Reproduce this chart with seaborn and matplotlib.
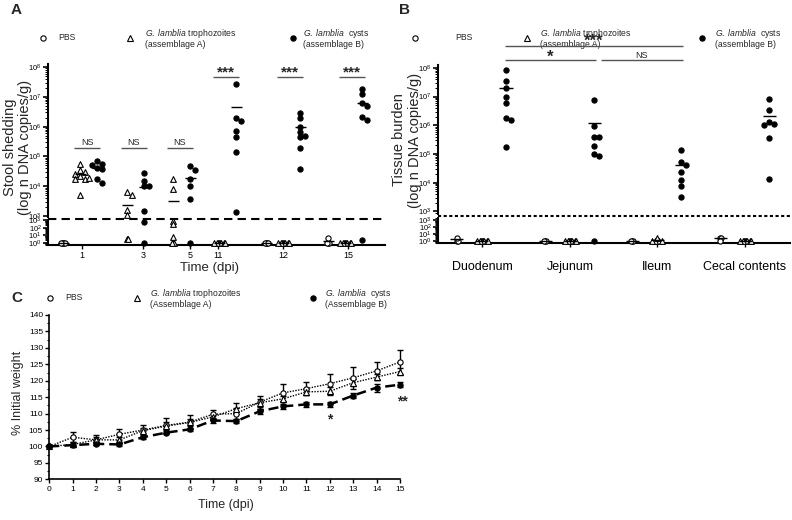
import numpy
import seaborn as sea
from matplotlib import pyplot, ticker

sea.set_style("ticks")
pyplot.rcParams.update({
    "font.family": ["Liberation Sans", "DejaVu Sans"],
    "mathtext.fontset": "custom",
    "mathtext.rm": "Liberation Sans",
    "mathtext.it": "Liberation Sans:italic",
    "mathtext.bf": "Liberation Sans:bold",
    "axes.edgecolor": "black",
    "xtick.color": "black",
    "ytick.color": "black",
})

# A: stool shedding (DNA copies/g), 1 = nothing detected
stool_days = [1, 3, 5, 11, 12, 15]
stool_pbs = {
    1: [1, 1, 1, 1, 1],
    12: [1, 1, 1, 1],
    15: [1, 1, 1, 4],
}
stool_troph = {
    1: [5.5e4, 3.5e4, 3.0e4, 2.5e4, 2.2e4, 1.8e4, 1.7e4, 1.9e4, 5e3],
    3: [6.5e3, 5e3, 1.6e3, 1.1e3, 3, 3],
    5: [1.7e4, 8e3, 9e2, 3e2, 5, 1, 1, 1],
    11: [1, 1, 1, 1, 1, 1, 1, 1],
    12: [1, 1, 1, 1, 1, 1, 1, 1],
    15: [1, 1, 1, 1, 1, 1, 1, 1],
}
stool_cyst = {
    1: [7e4, 5.5e4, 5e4, 4e4, 3.8e4, 1.8e4, 1.3e4],
    3: [2.7e4, 1.5e4, 1.05e4, 1e4, 1.45e3, 5e2, 1],
    5: [4.9e4, 3.5e4, 1.7e4, 1e4, 3.8e3, 1],
    11: [2.6e7, 1.9e6, 1.6e6, 7e5, 4.4e5, 1.4e5, 1.4e3],
    12: [2.8e6, 1.9e6, 1e6, 6.5e5, 5e5, 4.5e5, 1.9e5, 3.7e4],
    15: [1.8e7, 1.2e7, 6e6, 5e6, 2.1e6, 1.7e6, 2.5],
}
stool_stats = ["NS", "NS", "NS", "***", "***", "***"]

# B: tissue burden (DNA copies/g)
sites = ["Duodenum", "Jejunum", "Ileum", "Cecal contents"]
tissue_pbs = [[1, 1, 3], [1, 1, 1], [1, 1, 1], [3, 3, 1]]
tissue_troph = [
    [1, 1, 1, 1, 1, 1, 1, 1],
    [1, 1, 1, 1, 1, 1, 1, 1],
    [1, 1, 1, 1, 1, 1, 1, 3],
    [1, 1, 1, 1, 1, 1, 1, 1],
]
tissue_cyst = [
    [8.5e7, 3.5e7, 2e7, 9.5e6, 6e6, 1.85e6, 1.55e6, 1.8e5],
    [7.5e6, 9.5e5, 4e5, 4e5, 1.9e5, 1e5, 8.5e4, 1],
    [1.4e5, 5.1e4, 4.2e4, 2.3e4, 1.25e4, 7.5e3, 3.3e3],
    [8e6, 3.5e6, 1.3e6, 1.15e6, 1.0e6, 3.5e5, 1.3e4],
]

# C: body weight, % of day 0 (mean, SEM)
weight_days = [0, 1, 2, 3, 4, 5, 6, 7, 8, 9, 10, 11, 12, 13, 14, 15]
weight_pbs = [100, 102.8, 102.0, 103.7, 105.0, 106.4, 107.4, 109.8,
              110.0, 113.5, 116.3, 117.6, 119.1, 120.9, 123.0, 125.7]
weight_pbs_sem = [0, 1.6, 1.6, 1.7, 1.4, 2.3, 2.1, 1.4,
                  1.6, 2.0, 2.6, 2.0, 2.9, 3.3, 2.7, 3.7]
weight_troph = [100, 100.6, 102.0, 102.0, 104.8, 106.2, 107.3, 109.0,
                111.5, 113.3, 114.5, 116.6, 116.8, 119.4, 121.1, 122.8]
weight_troph_sem = [0, 0.6, 0.8, 0.8, 0.8, 1.2, 1.2, 1.0,
                    1.7, 1.2, 1.0, 1.0, 1.2, 1.0, 1.0, 1.0]
weight_cyst = [100, 100.4, 100.8, 100.6, 102.8, 104.2, 105.2, 107.9,
               107.7, 110.7, 112.2, 112.8, 112.8, 115.5, 117.9, 118.8]
weight_cyst_sem = [0, 0.6, 0.4, 0.4, 0.4, 0.5, 0.5, 0.7,
                   0.6, 0.8, 0.8, 0.7, 0.8, 0.8, 1.2, 0.8]

# layout (positions are in pixels of the 792x520 canvas)
W, H = 792, 520
A_CENTER = {1: 80, 3: 127, 5: 173, 11: 219, 12: 283, 15: 345}
A_TICKS = [82, 143, 190, 218, 283, 348]
A_SHIFT = {"pbs": -17, "troph": 0, "cyst": 17}
B_CENTER = [482, 570, 657, 745]
B_SHIFT = {"pbs": -25, "troph": 0, "cyst": 24}
MARK = {
    "pbs": dict(marker="o", color="white", s=14),
    "troph": dict(marker="^", color="white", s=17),
    "cyst": dict(marker="o", color="black", s=14),
}

fig = pyplot.figure(figsize=(W / 100, H / 100), dpi=100)
ov = fig.add_axes([0, 0, 1, 1])
ov.set_xlim(0, W)
ov.set_ylim(H, 0)
ov.axis("off")


def px_axes(left, top, right, bottom):
    return fig.add_axes([left / W, 1 - bottom / H,
                         (right - left) / W, (bottom - top) / H])


def log_axes(rect, lo, hi, xlim):
    ax = px_axes(*rect)
    ax.set_yscale("log")
    ax.set_ylim(10 ** lo, 10 ** hi)
    ax.set_xlim(*xlim)
    ax.yaxis.set_major_locator(ticker.LogLocator(base=10, numticks=15))
    ax.yaxis.set_minor_locator(
        ticker.LogLocator(base=10, subs=numpy.arange(2, 10), numticks=15))
    ax.yaxis.set_minor_formatter(ticker.NullFormatter())
    ax.tick_params(axis="y", which="major", length=3.5, width=1.2,
                   labelsize=5.5, pad=1)
    ax.tick_params(axis="y", which="minor", length=2, width=0.7)
    sea.despine(ax=ax)
    ax.spines["left"].set_linewidth(1.5)
    ax.patch.set_alpha(0)
    return ax


def swarm(ys, gap):
    # simple deterministic beeswarm offsets (ys in pixels)
    xs = []
    for i, y in enumerate(ys):
        k = 0
        while True:
            c = gap * ((k + 1) // 2) * (1 if k % 2 else -1)
            if all(numpy.hypot(c - xs[j], y - ys[j]) >= gap for j in range(i)):
                break
            k += 1
        xs.append(c)
    return numpy.array(xs)


def draw_groups(ax_hi, ax_lo, ppd_hi, ppd_lo, x0, vals, kind, half):
    vals = numpy.asarray(vals, dtype=float)
    for ax, sel, ppd, gap in ((ax_hi, vals >= 1000, ppd_hi, 4.6),
                              (ax_lo, vals < 1000, ppd_lo, 1.2)):
        v = vals[sel]
        if len(v) == 0:
            continue
        xs = x0 + swarm(numpy.log10(v) * ppd, gap)
        sea.scatterplot(x=xs, y=v, ax=ax, edgecolor="black", linewidth=0.8,
                        legend=False, clip_on=False, zorder=3, **MARK[kind])
    mean = vals.mean()
    ax = ax_hi if mean >= 1000 else ax_lo
    ax.hlines(mean, x0 - half, x0 + half, color="black", lw=1, zorder=4)


# ---------------- panel A ----------------
a_hi = log_axes((48, 64, 385, 217), 2.97, 8.1, (48, 385))
a_lo = log_axes((48, 220, 385, 245), -0.31, 3.03, (48, 385))
a_hi.spines["bottom"].set_visible(False)
a_hi.tick_params(axis="x", bottom=False, labelbottom=False)
a_lo.spines["bottom"].set_linewidth(1.5)
a_lo.set_xticks(A_TICKS, [str(d) for d in stool_days])
a_lo.tick_params(axis="x", length=3, width=1, labelsize=6.5, pad=1.5)
a_lo.axhline(10 ** 3.16, color="black", lw=1.5, ls=(0, (4, 2.5)),
             clip_on=False)

for kind, table in (("pbs", stool_pbs), ("troph", stool_troph),
                    ("cyst", stool_cyst)):
    for day, vals in table.items():
        draw_groups(a_hi, a_lo, 29.8, 7.5, A_CENTER[day] + A_SHIFT[kind],
                    vals, kind, 5.5)

for day, stat in zip(stool_days, stool_stats):
    x0 = A_CENTER[day]
    if stat == "NS":
        a_hi.hlines(10 ** 5.29, x0 - 6, x0 + 20, color="#555555", lw=1)
        a_hi.text(x0 + 7, 10 ** 5.33, stat, ha="center", va="bottom",
                  fontsize=6.5)
    else:
        a_hi.hlines(10 ** 7.675, x0 - 6, x0 + 20, color="#555555", lw=1)
        a_hi.text(x0 + 7, 10 ** 7.67, stat, ha="center", va="baseline",
                  fontsize=11, fontweight="bold")

# ---------------- panel B ----------------
b_hi = log_axes((438, 65, 790, 214), 2.91, 8.1, (438, 790))
b_lo = log_axes((438, 218, 790, 243.3), -0.37, 3.35, (438, 790))
b_hi.spines["bottom"].set_visible(False)
b_hi.tick_params(axis="x", bottom=False, labelbottom=False)
b_lo.spines["bottom"].set_linewidth(1.5)
b_lo.set_xticks(B_CENTER, sites)
b_lo.tick_params(axis="x", length=3, width=1, labelsize=9, pad=10)
b_lo.axhline(10 ** 3.65, color="black", lw=1.5, ls=(0, (1.5, 1.2)),
             clip_on=False)

for kind, table in (("pbs", tissue_pbs), ("troph", tissue_troph),
                    ("cyst", tissue_cyst)):
    for center, vals in zip(B_CENTER, table):
        draw_groups(b_hi, b_lo, 28.7, 6.8, center + B_SHIFT[kind],
                    vals, kind, 6.5)

cx = [c + B_SHIFT["cyst"] for c in B_CENTER]
for (x1, x2, y, label, ty, size) in (
        (cx[0] - 1, cx[2] + 2, 8.77, "***", 8.76, 12),
        (cx[0] - 1, cx[1] + 2, 8.28, "*", 8.22, 12),
        (cx[1] + 7, cx[2] + 2, 8.28, "NS", 8.33, 6.5)):
    b_hi.hlines(10 ** y, x1, x2, color="#555555", lw=1, clip_on=False)
    b_hi.text((x1 + x2) / 2, 10 ** ty, label, ha="center", va="baseline",
              fontsize=size, fontweight="bold" if "*" in label else "normal",
              clip_on=False)

# ---------------- panel C ----------------
c_ax = px_axes(49.3, 315, 400, 479.3)
c_ax.set_xlim(0, 15)
c_ax.set_ylim(90, 140)
sea.despine(ax=c_ax)
for vals, sem, mk, face, ls, lw in (
        (weight_pbs, weight_pbs_sem, "o", "white", (0, (1, 1)), 1.0),
        (weight_troph, weight_troph_sem, "^", "white", (0, (1, 1)), 1.0),
        (weight_cyst, weight_cyst_sem, "o", "black", (0, (4, 2)), 1.8)):
    c_ax.errorbar(weight_days, vals, yerr=sem, fmt="none", ecolor="black",
                  elinewidth=1, capsize=2, capthick=1, clip_on=False,
                  zorder=2)
    sea.lineplot(x=weight_days, y=vals, ax=c_ax, color="black", lw=lw,
                 linestyle=ls, marker=mk, ms=3.8, mfc=face, mec="black",
                 mew=0.8, clip_on=False, zorder=3)
c_ax.text(12, 108.3, "*", ha="center", va="center", fontsize=10,
          fontweight="bold")
c_ax.text(15.1, 113.8, "**", ha="center", va="center", fontsize=10,
          fontweight="bold")
c_ax.set_xticks(weight_days)
c_ax.yaxis.set_major_locator(ticker.MultipleLocator(5))
c_ax.yaxis.set_minor_locator(ticker.MultipleLocator(2.5))
c_ax.tick_params(which="major", length=3, width=1, labelsize=6, pad=1.5)
c_ax.tick_params(which="minor", length=1.5, width=0.8)
for side in ("left", "bottom"):
    c_ax.spines[side].set_linewidth(1.2)
c_ax.patch.set_alpha(0)

# ---------------- labels, legends ----------------
for x, y, letter in ((16, 10, "A"), (404, 10, "B"), (17, 298, "C")):
    ov.text(x, y, letter, ha="center", va="center", fontsize=11,
            fontweight="bold")

ov.text(17.5, 147, "Stool shedding\n(log n DNA copies/g)", rotation=90,
        ha="center", va="center", multialignment="center", fontsize=10.5,
        linespacing=1.15)
ov.text(407, 140, "Tissue burden\n(log n DNA copies/g)", rotation=90,
        ha="center", va="center", multialignment="center", fontsize=10.5,
        linespacing=1.15)
ov.text(18, 393, "% Initial weight", rotation=90, ha="center", va="center",
        fontsize=9)
ov.text(210, 268, "Time (dpi)", ha="center", va="center", fontsize=9.5)
ov.text(226, 505, "Time (dpi)", ha="center", va="center", fontsize=9)

troph = r"$\mathit{G.\ lamblia}$ trophozoites"
cysts = r"$\mathit{G.\ lamblia}$  cysts"
legend_rows = (
    (38, [(43, 58, "pbs", "PBS"),
          (130, 145, "troph", troph + "\n(assemblage A)"),
          (293, 303, "cyst", cysts + "\n(assemblage B)")]),
    (38, [(415, 455, "pbs", "PBS"),
          (527, 540, "troph", troph + "\n(assemblage A)"),
          (702, 715, "cyst", cysts + "\n(assemblage B)")]),
    (298, [(50, 65, "pbs", "PBS"),
           (137, 150, "troph", troph + "\n(Assemblage A)"),
           (313, 325, "cyst", cysts + "\n(Assemblage B)")]),
)
for y, entries in legend_rows:
    for mx, tx, kind, label in entries:
        ov.plot(mx, y, marker=MARK[kind]["marker"], ms=3.8,
                mfc=MARK[kind]["color"], mec="black", mew=0.8)
        ov.text(tx, y, label, ha="left", va="center", fontsize=6.2,
                linespacing=1.1)

fig.savefig("out.png", dpi=100)
